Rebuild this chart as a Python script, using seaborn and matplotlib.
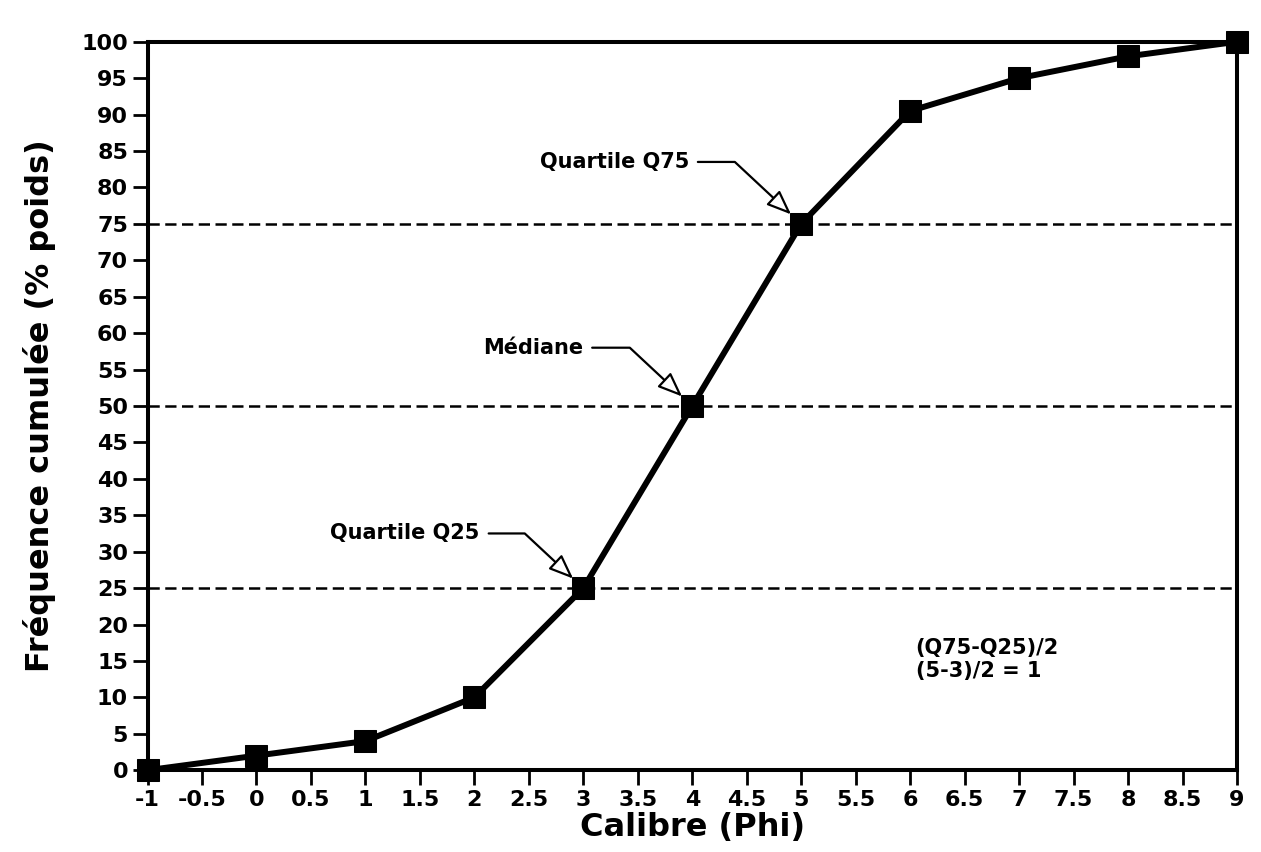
import seaborn as sns
import matplotlib.pyplot as plt
import pandas as pd

# valeurs
calibre = [-1, 0, 1, 2, 3, 4, 5, 6, 7, 8, 9]
freq_cumulee = [0, 2, 4, 10, 25, 50, 75, 90.5, 95, 98, 100]
niveaux_quartiles = [25, 50, 75]
x_ticks = [-1, -0.5, 0, 0.5, 1, 1.5, 2, 2.5, 3, 3.5, 4, 4.5, 5, 5.5, 6, 6.5, 7, 7.5, 8, 8.5, 9]
x_tick_labels = ['-1', '-0.5', '0', '0.5', '1', '1.5', '2', '2.5', '3', '3.5', '4',
                 '4.5', '5', '5.5', '6', '6.5', '7', '7.5', '8', '8.5', '9']
y_ticks = list(range(0, 101, 5))

# annotations : texte, point visé (x, y), position du texte
annotations = [
    ('Quartile Q75', (5, 75), (3.97, 83.5)),
    ('Médiane', (4, 50), (3.0, 58)),
    ('Quartile Q25', (3, 25), (2.05, 32.5)),
]
formule = '(Q75-Q25)/2\n(5-3)/2 = 1'

df = pd.DataFrame({'calibre': calibre, 'freq': freq_cumulee})

sns.set_theme(style='ticks')
plt.rcParams['font.family'] = ['DejaVu Sans']
plt.rcParams['text.color'] = 'black'
plt.rcParams['axes.labelcolor'] = 'black'
plt.rcParams['xtick.color'] = 'black'
plt.rcParams['ytick.color'] = 'black'

fig = plt.figure(figsize=(12.61, 8.52), dpi=100)
ax = fig.add_axes([0.117, 0.096, 0.864, 0.855])

for niveau in niveaux_quartiles:
    ax.axhline(niveau, color='black', linestyle=(0, (4.5, 2.2)), linewidth=1.8, zorder=1)

sns.lineplot(data=df, x='calibre', y='freq', color='black', linewidth=4.3,
             marker='s', markersize=16, markeredgecolor='black',
             markerfacecolor='black', ax=ax, clip_on=False, zorder=3)

for texte, cible, pos in annotations:
    ax.annotate(texte, xy=cible, xytext=pos, textcoords='data',
                ha='right', va='center', fontsize=15, fontweight='bold',
                arrowprops=dict(arrowstyle='-|>,head_length=1.0,head_width=0.4',
                                fc='white', ec='black', lw=1.6,
                                connectionstyle='angle,angleA=0,angleB=137,rad=0',
                                shrinkA=4, shrinkB=10),
                zorder=4)

ax.text(6.05, 15.2, formule, fontsize=15, fontweight='bold',
        ha='left', va='center', linespacing=1.15)

ax.set_xlim(-1, 9)
ax.set_ylim(0, 100)
ax.set_xticks(x_ticks)
ax.set_xticklabels(x_tick_labels)
ax.set_yticks(y_ticks)
ax.tick_params(axis='both', direction='out', length=11, width=2, color='black',
               labelsize=16, pad=3)
for lab in ax.get_xticklabels() + ax.get_yticklabels():
    lab.set_fontweight('bold')

for spine in ax.spines.values():
    spine.set_visible(True)
    spine.set_linewidth(2.9)
    spine.set_color('black')

ax.set_xlabel('Calibre (Phi)', fontsize=23, fontweight='bold', labelpad=2)
ax.set_ylabel('Fréquence cumulée (% poids)', fontsize=23, fontweight='bold', labelpad=18)

fig.savefig('out.png', dpi=100, facecolor='white')
